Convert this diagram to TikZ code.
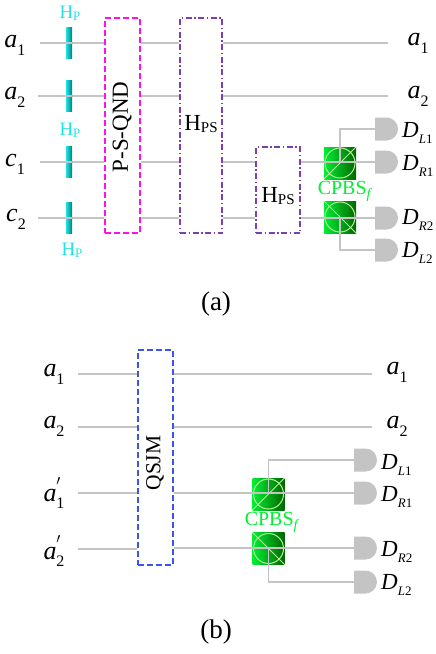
\documentclass[tikz,border=0pt]{standalone}
\usepackage{fontspec}
\setmainfont{Liberation Serif}
\usepackage{xcolor}
\usetikzlibrary{shapes.misc}
\definecolor{hpcyan}{HTML}{1FE3E3}
\definecolor{cpbsgreen}{HTML}{00EE33}
\definecolor{wiregray}{HTML}{C4C4C4}
\definecolor{pbsring}{HTML}{B4F09A}
\definecolor{hpspurple}{HTML}{7B3FB0}
\definecolor{psmagenta}{HTML}{FF10E8}
\definecolor{qsjmblue}{HTML}{3A55E8}
\newcommand{\fsz}[1]{\fontsize{#1}{#1}\selectfont}
\newcommand{\sublabel}[2]{\textit{#1}\raisebox{-.3em}{\fsz{16}#2}}
\newcommand{\primelabel}[2]{\textit{#1}\rlap{\raisebox{.32em}{\fsz{20}$'$}}\raisebox{-.3em}{\fsz{16}#2}}
\newcommand{\detlabel}[2]{\fsz{23}\textit{D}\raisebox{-.3em}{\fsz{13}\textit{#1}#2}}
\tikzset{
  wire/.style={draw=wiregray, line width=1.2pt},
  hpbar/.style={rectangle, minimum width=6pt, minimum height=31pt, inner sep=0pt, left color=hpcyan, right color=teal},
  hplabel/.style={text=hpcyan, font=\fsz{19}, inner sep=0pt},
  dashbox/.style={rectangle, inner sep=0pt, line width=1.4pt, dash pattern=on 6pt off 3pt},
  dotbox/.style={rectangle, inner sep=0pt, line width=1.2pt, dash pattern=on 6pt off 2.5pt on 1.5pt off 2.5pt},
  cpbsbox/.style={rectangle, minimum size=32pt, inner sep=0pt, left color=cpbsgreen, right color=green!40!black},
  cpbslabel/.style={text=cpbsgreen, font=\fsz{20}, inner sep=0pt},
  detector/.style={rounded rectangle, rounded rectangle west arc=none, fill=wiregray, draw=none, minimum width=21pt, minimum height=23pt, inner sep=0pt},
  ring/.style={draw=pbsring, line width=1pt},
  wirename/.style={font=\fsz{26}, inner sep=0pt},
  detname/.style={anchor=west, inner sep=0pt},
  caption/.style={font=\fsz{27}, inner sep=0pt}
}
\newcommand{\cpbsup}[2]{%
  \node[cpbsbox] (#1) at #2 {};
  \draw[ring] (#1) circle (15pt);
  \draw[ring] (#1.south west) -- (#1.north east);
}
\newcommand{\cpbsdown}[2]{%
  \node[cpbsbox] (#1) at #2 {};
  \draw[ring] (#1) circle (15pt);
  \draw[ring] (#1.north west) -- (#1.south east);
}
\begin{document}
\begin{tikzpicture}[x=1pt, y=-1pt]
    \useasboundingbox (0,0) rectangle (436,654);

    \node[dashbox, draw=psmagenta, minimum width=35pt, minimum height=215pt] (psqnd) at (122.5,125.5) {};
    \node[rotate=90, font=\fsz{23}, inner sep=0pt] (psqndname) at (122,127) {P-S-QND};
    \node[dotbox, draw=hpspurple, minimum width=42pt, minimum height=215pt] (hpsa) at (201,125.5) {};
    \node[font=\fsz{23}, inner sep=0pt] (hpsaname) at (201,124) {H\raisebox{-.1em}{\fsz{15}PS}};
    \node[dotbox, draw=hpspurple, minimum width=44pt, minimum height=86pt] (hpsb) at (278,190) {};
    \node[font=\fsz{23}, inner sep=0pt] (hpsbname) at (278,196) {H\raisebox{-.1em}{\fsz{15}PS}};

    \node[wirename] (a1l) at (15,45) {\sublabel{a}{1}};
    \node[wirename] (a2l) at (15,97) {\sublabel{a}{2}};
    \node[wirename] (c1l) at (15,164) {\sublabel{c}{1}};
    \node[wirename] (c2l) at (16,219) {\sublabel{c}{2}};
    \node[wirename] (a1r) at (418,43) {\sublabel{a}{1}};
    \node[wirename] (a2r) at (418,96) {\sublabel{a}{2}};
    \coordinate (a1s) at (40,43);
    \coordinate (a2s) at (38,96);
    \coordinate (c1s) at (40,162);
    \coordinate (c2s) at (38,218);
    \coordinate (a1e) at (388,43);
    \coordinate (a2e) at (388,96);

    \node[detector] (dl1) at (386.5,129) {};
    \node[detector] (dr1) at (386.5,162) {};
    \node[detector] (dr2) at (386.5,218) {};
    \node[detector] (dl2) at (386.5,250) {};
    \node[detname] (dl1name) at (402,133) {\detlabel{L}{1}};
    \node[detname] (dr1name) at (402,166) {\detlabel{R}{1}};
    \node[detname] (dr2name) at (402,220) {\detlabel{R}{2}};
    \node[detname] (dl2name) at (402,253) {\detlabel{L}{2}};

    \cpbsup{cpbsa}{(340,163)}
    \cpbsdown{cpbsb}{(340,217)}
    \node[cpbslabel] (cpbsaname) at (345,191) {CPBS\raisebox{-.2em}{\fsz{14}\textit{f}}};

    \draw[wire] (a1s) -- (a1s -| psqnd.west);
    \draw[wire] (a2s) -- (a2s -| psqnd.west);
    \draw[wire] (c1s) -- (c1s -| psqnd.west);
    \draw[wire] (c2s) -- (c2s -| psqnd.west);
    \draw[wire] (a1s -| psqnd.east) -- (a1s -| hpsa.west);
    \draw[wire] (a2s -| psqnd.east) -- (a2s -| hpsa.west);
    \draw[wire] (c1s -| psqnd.east) -- (c1s -| hpsa.west);
    \draw[wire] (c2s -| psqnd.east) -- (c2s -| hpsa.west);
    \draw[wire] (a1s -| hpsa.east) -- (a1e);
    \draw[wire] (a2s -| hpsa.east) -- (a2e);
    \draw[wire] (c1s -| hpsa.east) -- (c1s -| hpsb.west);
    \draw[wire] (c2s -| hpsa.east) -- (c2s -| hpsb.west);
    \draw[wire] (dr1.west -| hpsb.east) -- (dr1.west);
    \draw[wire] (dr2.west -| hpsb.east) -- (dr2.west);
    \draw[wire] (cpbsa |- dr1.west) -- (cpbsa |- dl1.west) -- (dl1.west);
    \draw[wire] (cpbsb |- dr2.west) -- (cpbsb |- dl2.west) -- (dl2.west);

    \node[hpbar] (hpa1) at (69,42.5) {};
    \node[hpbar] (hpa2) at (69,95.5) {};
    \node[hpbar] (hpc1) at (69,162) {};
    \node[hpbar] (hpc2) at (69,218) {};
    \draw[wire] (a1s -| hpa1.west) -- (a1s -| hpa1.east);
    \draw[wire] (a2s -| hpa2.west) -- (a2s -| hpa2.east);
    \draw[wire] (c1s -| hpc1.west) -- (c1s -| hpc1.east);
    \draw[wire] (c2s -| hpc2.west) -- (c2s -| hpc2.east);
    \node[hplabel] (hpa1name) at (70,13) {H\raisebox{-.1em}{\fsz{13}P}};
    \node[hplabel] (hpc1name) at (70,130) {H\raisebox{-.1em}{\fsz{13}P}};
    \node[hplabel] (hpc2name) at (72,250) {H\raisebox{-.1em}{\fsz{13}P}};

    \node[caption] (capa) at (216,304) {(a)};

    \node[dashbox, draw=qsjmblue, minimum width=35pt, minimum height=215pt] (qsjm) at (155.5,457.5) {};
    \node[rotate=90, font=\fsz{21.5}, inner sep=0pt] (qsjmname) at (155,463) {QSJM};

    \node[wirename] (b1l) at (54,374) {\sublabel{a}{1}};
    \node[wirename] (b2l) at (54,426) {\sublabel{a}{2}};
    \node[wirename] (p1l) at (54,493) {\primelabel{a}{1}};
    \node[wirename] (p2l) at (54,551) {\primelabel{a}{2}};
    \node[wirename] (b1r) at (397,372) {\sublabel{a}{1}};
    \node[wirename] (b2r) at (397,426) {\sublabel{a}{2}};
    \coordinate (b1s) at (78,374);
    \coordinate (b2s) at (78,427);
    \coordinate (p1s) at (78,493);
    \coordinate (p2s) at (78,549);
    \coordinate (b1e) at (372,374);
    \coordinate (b2e) at (372,427);

    \node[detector] (bdl1) at (365.5,460) {};
    \node[detector] (bdr1) at (365.5,493) {};
    \node[detector] (bdr2) at (365.5,548) {};
    \node[detector] (bdl2) at (365.5,582) {};
    \node[detname] (bdl1name) at (381,465) {\detlabel{L}{1}};
    \node[detname] (bdr1name) at (381,497) {\detlabel{R}{1}};
    \node[detname] (bdr2name) at (381,552) {\detlabel{R}{2}};
    \node[detname] (bdl2name) at (381,585) {\detlabel{L}{2}};

    \cpbsup{cpbsc}{(268.5,494)}
    \cpbsdown{cpbsd}{(268.5,548.5)}
    \node[cpbslabel] (cpbscname) at (272,522) {CPBS\raisebox{-.2em}{\fsz{14}\textit{f}}};

    \draw[wire] (b1s) -- (b1s -| qsjm.west);
    \draw[wire] (b2s) -- (b2s -| qsjm.west);
    \draw[wire] (p1s) -- (p1s -| qsjm.west);
    \draw[wire] (p2s) -- (p2s -| qsjm.west);
    \draw[wire] (b1s -| qsjm.east) -- (b1e);
    \draw[wire] (b2s -| qsjm.east) -- (b2e);
    \draw[wire] (bdr1.west -| qsjm.east) -- (bdr1.west);
    \draw[wire] (bdr2.west -| qsjm.east) -- (bdr2.west);
    \draw[wire] (cpbsc |- bdr1.west) -- (cpbsc |- bdl1.west) -- (bdl1.west);
    \draw[wire] (cpbsd |- bdr2.west) -- (cpbsd |- bdl2.west) -- (bdl2.west);

    \node[caption] (capb) at (216,632) {(b)};
\end{tikzpicture}
\end{document}
